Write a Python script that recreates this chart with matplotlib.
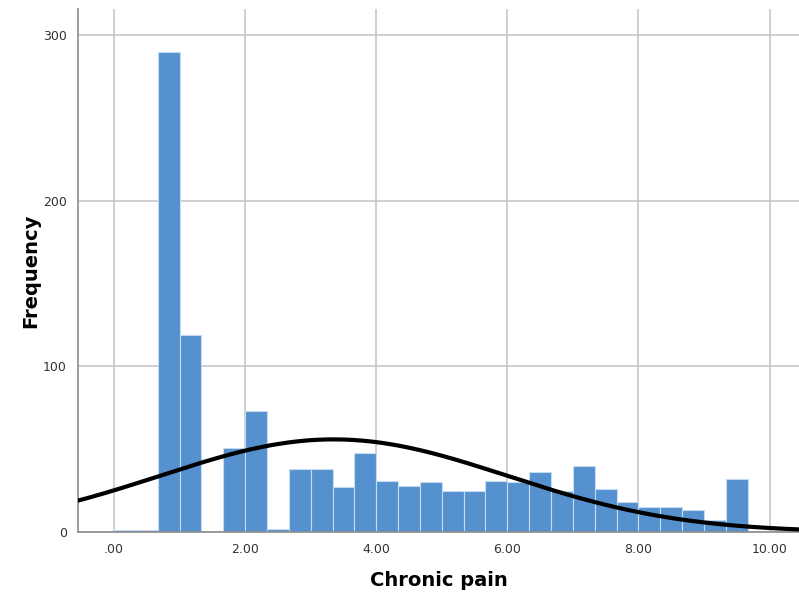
import numpy as np
import matplotlib
matplotlib.use("Agg")
import matplotlib.pyplot as plt

# histogram of chronic pain scores, bins of 1/3 from 0
bin_width = 1 / 3
bin_start = 0.0
counts = [1, 1, 290, 119, 0, 51, 73, 2, 38, 38, 27, 48, 31, 28, 30,
          25, 25, 31, 30, 36, 25, 40, 26, 18, 15, 15, 13, 7, 32]

# normal curve parameters (sample mean / sd)
mean_val = 3.35
sd_val = 2.65

x_ticks = [0, 2, 4, 6, 8, 10]
x_tick_labels = [".00", "2.00", "4.00", "6.00", "8.00", "10.00"]
y_ticks = [0, 100, 200, 300]

fig = plt.figure(figsize=(7.99, 5.94), dpi=100)
ax = fig.add_axes([0.0976, 0.1044, 0.9024, 0.8805])

edges = bin_start + bin_width * np.arange(len(counts))
ax.bar(edges, counts, width=bin_width, align="edge", color="#5591cf",
       edgecolor="#c4dbf2", linewidth=0.8, zorder=2)

n_total = sum(counts)
xs = np.linspace(-0.6, 10.5, 400)
curve = n_total * bin_width / (sd_val * np.sqrt(2 * np.pi)) * np.exp(-(xs - mean_val) ** 2 / (2 * sd_val ** 2))
ax.plot(xs, curve, color="black", linewidth=3, zorder=3)

ax.set_xlim(-0.55, 10.45)
ax.set_ylim(0, 316)
ax.set_xticks(x_ticks)
ax.set_xticklabels(x_tick_labels)
ax.set_yticks(y_ticks)

ax.grid(True, color="#c8c8c8", linewidth=1.2, zorder=0)
ax.set_axisbelow(True)
for side in ["top", "right"]:
    ax.spines[side].set_visible(False)
for side in ["left", "bottom"]:
    ax.spines[side].set_color("#8c8c8c")
    ax.spines[side].set_linewidth(1.2)
ax.tick_params(length=0, labelsize=9, colors="#333333", pad=8)

ax.set_xlabel("Chronic pain", fontsize=14, fontweight="bold", labelpad=11)
ax.set_ylabel("Frequency", fontsize=14, fontweight="bold", labelpad=2)

fig.savefig("out.png", dpi=100)
